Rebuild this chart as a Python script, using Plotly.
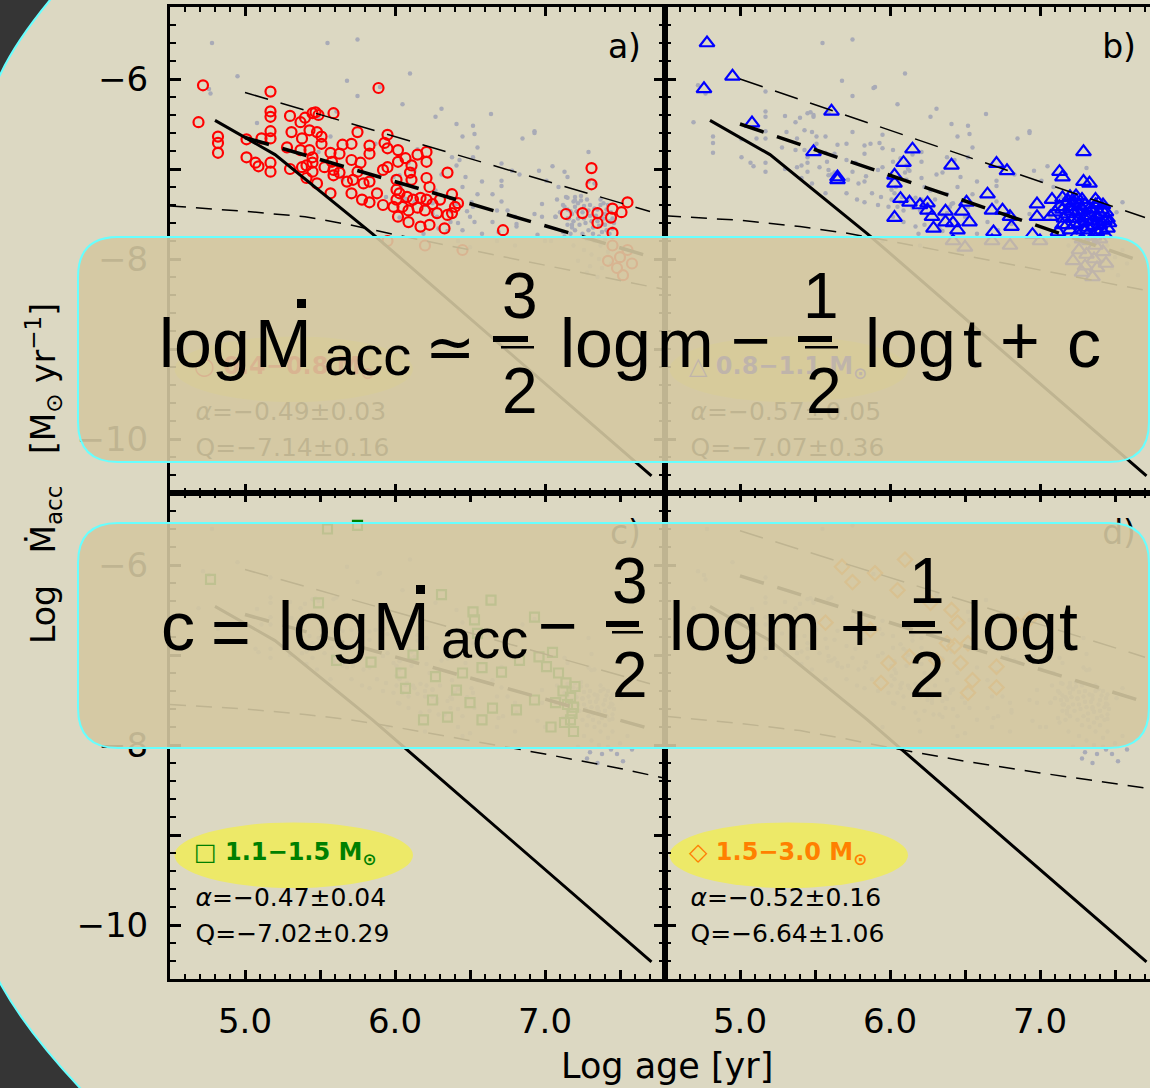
import plotly.graph_objects as go

W, H = 1150, 1088

# ---------------- data: log age [yr] vs log Mdot_acc [Msun/yr] ----------------
red_pts = [
    (4.72, -6.07), (4.69, -6.48), (4.82, -6.64), (4.82, -6.71), (4.82, -6.82),
    (5.17, -6.14), (5.17, -6.36), (5.17, -6.42), (5.17, -6.58), (5.17, -6.66),
    (5.11, -6.66), (5.01, -6.67), (5.01, -6.87), (5.07, -6.93), (5.09, -6.97),
    (5.17, -6.93), (5.17, -7.03), (5.30, -6.41), (5.31, -6.59), (5.28, -6.76),
    (5.30, -7.00), (5.37, -6.48), (5.40, -6.43), (5.38, -6.66), (5.37, -6.79),
    (5.45, -6.38), (5.47, -6.37), (5.49, -6.40), (5.59, -6.38), (5.43, -6.57),
    (5.48, -6.59), (5.51, -6.64), (5.51, -6.72), (5.43, -6.79), (5.45, -6.87),
    (5.38, -6.98), (5.41, -6.96), (5.45, -6.93), (5.45, -7.03), (5.41, -7.10),
    (5.48, -7.16), (5.57, -7.27), (5.57, -6.82), (5.58, -6.92), (5.65, -6.73),
    (5.71, -6.72), (5.63, -6.83), (5.53, -6.98), (5.59, -7.01), (5.63, -7.04),
    (5.71, -6.90), (5.77, -6.93), (5.75, -6.59), (5.83, -6.74), (5.83, -6.83),
    (5.89, -6.10), (5.95, -6.62), (5.93, -6.71), (5.95, -6.77), (5.72, -7.12),
    (5.79, -7.16), (5.83, -7.14), (5.71, -7.27), (5.78, -7.34), (5.83, -7.37),
    (5.88, -7.27), (5.92, -7.01), (5.95, -6.98), (6.02, -6.79), (6.02, -6.92),
    (6.01, -7.12), (6.01, -7.23), (6.01, -7.34), (5.99, -7.42), (5.92, -7.40),
    (6.02, -7.53), (5.59, -7.07), (5.68, -7.14), (5.75, -7.03), (6.07, -6.88),
    (6.15, -6.84), (6.21, -6.81), (6.11, -6.96), (6.21, -6.92), (6.10, -7.04),
    (6.11, -7.12), (6.21, -7.10), (6.23, -7.20), (6.35, -7.04), (6.03, -7.27),
    (6.08, -7.31), (6.12, -7.34), (6.17, -7.32), (6.21, -7.34), (6.05, -7.42),
    (6.09, -7.46), (6.15, -7.43), (6.20, -7.46), (6.25, -7.39), (6.30, -7.34),
    (6.38, -7.28), (6.42, -7.38), (6.40, -7.42), (6.28, -7.49), (6.35, -7.51),
    (6.38, -7.49), (6.17, -7.64), (6.23, -7.62), (6.33, -7.66), (6.09, -7.59),
    (6.72, -7.68), (7.31, -6.99), (7.31, -7.17), (7.55, -7.37), (7.45, -7.44),
    (7.51, -7.48), (7.14, -7.50), (7.25, -7.49), (7.35, -7.49), (7.35, -7.60),
    (7.44, -7.54), (7.45, -7.71),
    (7.45, -7.85), (7.55, -7.90), (7.50, -7.98), (7.42, -8.02), (7.58, -8.05),
    (7.48, -8.10), (7.52, -8.18), (5.95, -7.80), (6.20, -7.85), (6.45, -7.90),
]

blue_pts = [
    (4.78, -5.60), (4.95, -5.97), (4.76, -6.11), (5.08, -6.49),
    (5.61, -6.36), (5.49, -6.81), (5.65, -7.09), (5.65, -7.12),
    (6.15, -6.78), (6.09, -6.93), (6.03, -7.07), (6.03, -7.16), (6.07, -7.33),
    (6.13, -7.37), (6.20, -7.40), (6.25, -7.38), (6.25, -7.46), (6.28, -7.53),
    (6.29, -7.66), (6.03, -7.54), (6.37, -7.47), (6.37, -7.59), (6.42, -7.60),
    (6.45, -7.68), (6.41, -6.96), (6.51, -7.37), (6.48, -7.47), (6.53, -7.59),
    (6.65, -7.28), (6.68, -7.46), (6.75, -7.46), (6.71, -6.94), (6.78, -7.02),
    (6.80, -7.53), (6.81, -7.64), (6.69, -7.70), (6.98, -7.39), (6.98, -7.53),
    (6.95, -7.73), (7.08, -7.34), (7.10, -7.48), (7.07, -7.53), (7.13, -7.03),
    (7.15, -7.09), (7.29, -6.81), (7.29, -7.14), (7.33, -7.16), (7.15, -7.32),
    (7.20, -7.31), (7.22, -7.38), (7.37, -7.34), (7.39, -7.38),
    (7.15, -7.45), (7.18, -7.50), (7.20, -7.42), (7.22, -7.55), (7.25, -7.48),
    (7.27, -7.60), (7.30, -7.40), (7.30, -7.52), (7.32, -7.65), (7.35, -7.45),
    (7.35, -7.58), (7.38, -7.70), (7.40, -7.50), (7.40, -7.62), (7.42, -7.40),
    (7.43, -7.72), (7.45, -7.55), (7.20, -7.68), (7.25, -7.72), (7.28, -7.78),
    (7.33, -7.80), (7.37, -7.85), (7.15, -7.62), (7.12, -7.70), (7.40, -7.78),
    (7.45, -7.66), (7.24, -7.35), (7.26, -7.90), (7.31, -7.95), (7.36, -8.00),
    (7.42, -7.92), (7.22, -8.02), (7.30, -8.08), (7.38, -8.10), (7.28, -8.15),
    (7.35, -8.20), (7.44, -8.05),
    (7.13, -7.42), (7.16, -7.55), (7.19, -7.36), (7.21, -7.47), (7.23, -7.62),
    (7.26, -7.41), (7.26, -7.55), (7.29, -7.46), (7.29, -7.68), (7.31, -7.58),
    (7.33, -7.44), (7.34, -7.52), (7.36, -7.63), (7.37, -7.40), (7.39, -7.55),
    (7.41, -7.45), (7.41, -7.68), (7.43, -7.58), (7.44, -7.48), (7.46, -7.60),
    (7.32, -7.72), (7.24, -7.30), (7.36, -7.75), (7.18, -7.62), (7.28, -7.34),
    (6.42, -7.80), (6.50, -7.87), (6.68, -7.80), (6.80, -7.85), (7.00, -7.80),
]

green_pts = [
    (4.77, -6.16), (5.49, -6.42), (6.64, -6.39), (6.93, -6.58), (6.53, -6.61),
    (5.84, -7.08), (5.61, -7.06), (6.12, -7.00), (6.04, -7.20), (6.27, -7.24),
    (6.45, -7.20), (6.58, -7.14), (6.71, -7.19), (6.83, -7.06), (6.96, -7.02),
    (7.01, -7.13), (7.09, -7.20), (7.14, -7.31), (7.17, -7.47), (7.19, -7.58),
    (7.17, -7.72), (6.07, -7.37), (6.25, -7.50), (6.41, -7.39), (6.50, -7.53),
    (6.65, -7.59), (6.81, -7.61), (6.93, -7.50), (6.35, -7.69), (6.58, -7.72),
    (6.19, -7.72), (7.07, -7.53), (7.04, -7.80),
    (7.12, -7.40), (7.15, -7.55), (7.18, -7.65), (7.20, -7.35), (7.13, -7.75),
    (7.19, -7.85),
    (5.55, -5.60), (5.75, -5.56), (6.31, -6.33), (6.52, -6.52), (6.55, -6.76),
    (7.05, -6.97),
]

orange_pts = [
    (5.68, -6.02), (6.10, -5.94), (6.05, -6.28), (6.27, -6.42), (6.41, -6.50),
    (6.45, -6.64), (6.38, -6.87), (6.52, -6.87), (6.31, -7.06), (6.47, -7.09),
    (6.71, -7.13), (6.55, -7.28), (6.71, -7.36), (6.52, -7.42), (5.99, -7.09),
    (6.13, -7.02), (5.94, -7.31), (5.87, -6.72),
    (5.90, -6.09), (5.75, -6.19), (5.57, -6.64), (6.85, -6.66), (6.93, -6.60),
    (6.43, -6.90),
]

panel_points = [red_pts, blue_pts, green_pts, orange_pts]
panel_tags = ["a)", "b)", "c)", "d)"]
mass_bins = ["0.4−0.8", "0.8−1.1", "1.1−1.5", "1.5−3.0"]
bin_glyphs = ["○", "△", "□", "◇"]
bin_colors = ["#ff0000", "#0000ff", "#008000", "#ff8000"]
marker_symbols = ["circle-open", "triangle-up-open", "square-open", "diamond-open"]
marker_sizes = [10, 13, 9, 11]

# power-law fits  log Mdot = Q + alpha (log t - 6)
alpha = [-0.49, -0.57, -0.47, -0.52]
alpha_err = [0.03, 0.05, 0.04, 0.16]
q_val = [-7.14, -7.07, -7.02, -6.64]
q_err = [0.16, 0.36, 0.29, 1.06]
fit_span = [5.0, 7.7]
band_offset = 0.5

# disc-evolution track (solid)
track_x = [4.8, 5.2, 5.85, 7.71]
track_y = [-6.46, -6.84, -7.72, -10.41]

# detection-limit curves (thin dashed), one per mass bin
limit_x = [4.5, 5.0, 5.4, 5.7, 6.0, 6.5, 7.0, 7.5, 7.8]
limit_y = [
    [-7.41, -7.47, -7.53, -7.62, -7.73, -7.90, -8.07, -8.24, -8.34],
    [-7.52, -7.57, -7.64, -7.71, -7.80, -7.96, -8.12, -8.28, -8.38],
    [-7.55, -7.60, -7.66, -7.72, -7.80, -7.95, -8.10, -8.26, -8.37],
    [-7.68, -7.76, -7.84, -7.93, -8.03, -8.18, -8.31, -8.43, -8.50],
]

x_major = [4.5, 5.0, 5.5, 6.0, 6.5, 7.0, 7.5]
x_labels = ["", "5.0", "", "6.0", "", "7.0", ""]
y_major = [-10, -9, -8, -7, -6]
y_labels = ["−10", "", "−8", "", "−6"]


# ---------------- helpers: pixel -> paper ----------------
def fx(px):
    return px / W


def fy(py):
    return 1 - py / H


def path_str(cmds):
    out = []
    for c in cmds:
        op, pts = c[0], c[1:]
        coords = " ".join(f"{fx(x):.5f},{fy(y):.5f}" for x, y in pts)
        out.append(f"{op}{coords}")
    return " ".join(out) + " Z"


def rounded_box(x0, y0, x1, y1, r):
    return path_str([
        ("M", (x0 + r, y0)), ("L", (x1 - r, y0)), ("Q", (x1, y0), (x1, y0 + r)),
        ("L", (x1, y1 - r)), ("Q", (x1, y1), (x1 - r, y1)),
        ("L", (x0 + r, y1)), ("Q", (x0, y1), (x0, y1 - r)),
        ("L", (x0, y0 + r)), ("Q", (x0, y0), (x0 + r, y0)),
    ])


# ---------------- figure ----------------
fig = go.Figure()

col_dom = [[fx(170), fx(665)], [fx(665), 1.0]]
row_dom = [[fy(493), fy(7)], [fy(979), fy(493)]]
x_ranges = [[4.5, 7.8], [4.5, 4.5 + 485 / 150]]
y_range = [-10.6, -5.2]

axis_font = dict(family="DejaVu Sans", size=34, color="black")
layout_axes = {}
for i in range(4):
    row, col = divmod(i, 2)
    sx = "" if i == 0 else str(i + 1)
    layout_axes[f"xaxis{sx}"] = dict(
        domain=col_dom[col], range=x_ranges[col], anchor=f"y{sx}",
        showgrid=False, zeroline=False, showline=True, linecolor="black", linewidth=3,
        mirror="ticks", ticks="inside", ticklen=9, tickwidth=2.5, tickcolor="black",
        tickmode="array", tickvals=x_major, ticktext=x_labels,
        showticklabels=(row == 1), tickfont=axis_font, ticklabelstandoff=10,
        minor=dict(tickmode="linear", tick0=4.5, dtick=0.1, ticks="inside",
                   ticklen=5, tickwidth=2, tickcolor="black", showgrid=False),
    )
    layout_axes[f"yaxis{sx}"] = dict(
        domain=row_dom[row], range=y_range, anchor=f"x{sx}",
        showgrid=False, zeroline=False, showline=True, linecolor="black", linewidth=3,
        mirror=("ticks" if col == 0 else False), ticks="inside", ticklen=11,
        tickwidth=2.5, tickcolor="black",
        tickmode="array", tickvals=y_major, ticktext=y_labels,
        showticklabels=(col == 0), tickfont=axis_font, ticklabelstandoff=12,
        minor=dict(tickmode="linear", tick0=-10, dtick=0.2, ticks="inside",
                   ticklen=6, tickwidth=2, tickcolor="black", showgrid=False),
    )

shapes = []
for i in range(4):
    sx = "" if i == 0 else str(i + 1)
    xa, ya = f"x{sx}", f"y{sx}"
    pts = panel_points[i]
    others = [p for j, s in enumerate(panel_points) if j != i for p in s]

    # full sample in grey
    fig.add_trace(go.Scatter(
        x=[p[0] for p in others], y=[p[1] for p in others], mode="markers",
        marker=dict(size=4.5, color="#a9abb7"), xaxis=xa, yaxis=ya, hoverinfo="skip"))
    # stars of this mass bin
    fig.add_trace(go.Scatter(
        x=[p[0] for p in pts], y=[p[1] for p in pts], mode="markers",
        marker=dict(symbol=marker_symbols[i], size=marker_sizes[i], color=bin_colors[i],
                    line=dict(width=2.2, color=bin_colors[i])),
        xaxis=xa, yaxis=ya))
    # detection limit
    fig.add_trace(go.Scatter(
        x=limit_x, y=limit_y[i], mode="lines",
        line=dict(color="black", width=1.5, dash="16px,10px"), xaxis=xa, yaxis=ya))
    # fit and upper band
    fit_y = [q_val[i] + alpha[i] * (x - 6.0) for x in fit_span]
    fig.add_trace(go.Scatter(
        x=fit_span, y=[v + band_offset for v in fit_y], mode="lines",
        line=dict(color="black", width=1.5, dash="24px,13px"), xaxis=xa, yaxis=ya))
    fig.add_trace(go.Scatter(
        x=fit_span, y=fit_y, mode="lines",
        line=dict(color="black", width=3.5, dash="25px,14px"), xaxis=xa, yaxis=ya))
    # evolutionary track
    fig.add_trace(go.Scatter(
        x=track_x, y=track_y, mode="lines",
        line=dict(color="black", width=3), xaxis=xa, yaxis=ya))

    # panel tag
    fig.add_trace(go.Scatter(
        x=[7.64], y=[-5.68], mode="text", text=[panel_tags[i]],
        textposition="middle left", cliponaxis=False,
        textfont=dict(family="DejaVu Sans", size=33, color="black"), xaxis=xa, yaxis=ya))
    # mass-bin label on a yellow ellipse
    shapes.append(dict(type="circle", xref=xa, yref=ya, x0=4.53, x1=6.12,
                       y0=-9.59, y1=-8.86, fillcolor="#ede968",
                       line=dict(width=0), layer="below"))
    fig.add_trace(go.Scatter(
        x=[4.66], y=[-9.21], mode="text",
        text=[f"<b>{bin_glyphs[i]} {mass_bins[i]} M<sub>⊙</sub></b>"],
        textposition="middle right", cliponaxis=False,
        textfont=dict(family="DejaVu Sans", size=24, color=bin_colors[i]),
        xaxis=xa, yaxis=ya))
    fig.add_trace(go.Scatter(
        x=[4.67, 4.67], y=[-9.72, -10.12], mode="text",
        text=[f"<i>α</i>=−{abs(alpha[i]):.2f}±{alpha_err[i]:.2f}",
              f"Q=−{abs(q_val[i]):.2f}±{q_err[i]:.2f}"],
        textposition="middle right", cliponaxis=False,
        textfont=dict(family="DejaVu Sans", size=25, color="black"),
        xaxis=xa, yaxis=ya))

# slide background: beige panel with rounded left corners
shapes.insert(0, dict(
    type="path", xref="paper", yref="paper", layer="below",
    path=path_str([
        ("M", (58, -10)), ("L", (1170, -10)), ("L", (1170, 1100)), ("L", (92, 1101)),
        ("L", (80, 1088)), ("Q", (26, 1030.5), (0, 983)), ("L", (-8, 968)),
        ("L", (-8, 90)), ("L", (0, 75)), ("Q", (15, 42.5), (50, 0)),
    ]),
    fillcolor="#dcd8c2", line=dict(color="#66ffff", width=2)))

# equation boxes
for y0, y1 in [(237, 462), (523, 748)]:
    shapes.append(dict(type="path", xref="paper", yref="paper", layer="above",
                       path=rounded_box(78, y0, 1149, y1, 40),
                       fillcolor="rgba(212,200,161,0.9)",
                       line=dict(color="#66ffff", width=2)))

# fraction bars and Mdot dots (pixel positions)
bars = [(493, 336, 528, 342), (501, 346, 534, 348.5),
        (798, 336, 832, 342), (805, 346, 838, 348.5),
        (606, 621, 639, 627), (612, 631, 643, 633.5),
        (902, 621, 935, 627), (909, 631, 942, 633.5),
        (297, 299, 306, 308), (416, 585, 425, 594)]
for x0, y0, x1, y1 in bars:
    shapes.append(dict(type="rect", xref="paper", yref="paper", layer="above",
                       x0=fx(x0), x1=fx(x1), y0=fy(y1), y1=fy(y0),
                       fillcolor="black", line=dict(width=0)))

annotations = []


def put(text, x, base=None, mid=None, size=68, family="Liberation Sans", anchor="left"):
    yc = mid if mid is not None else base - 0.35 * size
    annotations.append(dict(
        text=text, x=fx(x), y=fy(yc), xref="paper", yref="paper",
        xanchor=anchor, yanchor="middle", showarrow=False,
        font=dict(family=family, size=size, color="black")))


# log Mdot_acc ~ 3/2 log m - 1/2 log t + c
put("log", 157, base=367)
put("M", 253, base=367)
put("acc", 322, base=375, size=56)
put("≃", 450, mid=347, size=60, family="DejaVu Sans", anchor="center")
put("3", 520, base=318, size=64, anchor="center")
put("2", 520, base=413, size=64, anchor="center")
put("log", 558, base=367)
put("m", 655, base=367)
put("−", 751, mid=340, anchor="center")
put("1", 821, base=318, size=64, anchor="center")
put("2", 824, base=413, size=64, anchor="center")
put("log", 863, base=367)
put("t", 961, base=367)
put("+", 1020, mid=340, anchor="center")
put("c", 1065, base=367)

# c = log Mdot_acc - 3/2 log m + 1/2 log t
put("c", 159, base=650)
put("=", 231, mid=632, anchor="center")
put("log", 276, base=650)
put("M", 371, base=650)
put("acc", 439, base=658, size=56)
put("−", 558, mid=625, anchor="center")
put("3", 630, base=603, size=64, anchor="center")
put("2", 630, base=697, size=64, anchor="center")
put("log", 667, base=650)
put("m", 762, base=650)
put("+", 860, mid=627, anchor="center")
put("1", 927, base=603, size=64, anchor="center")
put("2", 927, base=697, size=64, anchor="center")
put("log", 965, base=650)
put("t", 1057, base=650)

# axis titles
nb = "\u00a0"
annotations.append(dict(
    text=f"Log{nb*3}Ṁ<sub>acc</sub>{nb*3}[M<sub>⊙</sub>{nb}yr<sup>−1</sup>]",
    x=fx(43), y=fy(474), xref="paper", yref="paper", textangle=-90,
    xanchor="center", yanchor="middle", showarrow=False,
    font=dict(family="DejaVu Sans", size=33, color="black")))
annotations.append(dict(
    text="Log age [yr]", x=fx(667), y=fy(1066), xref="paper", yref="paper",
    xanchor="center", yanchor="middle", showarrow=False,
    font=dict(family="DejaVu Sans", size=35, color="black")))

fig.update_layout(
    width=W, height=H, margin=dict(l=0, r=0, t=0, b=0),
    paper_bgcolor="#353535", plot_bgcolor="rgba(0,0,0,0)",
    showlegend=False, shapes=shapes, annotations=annotations,
    **layout_axes,
)

fig.write_html("out.html")
